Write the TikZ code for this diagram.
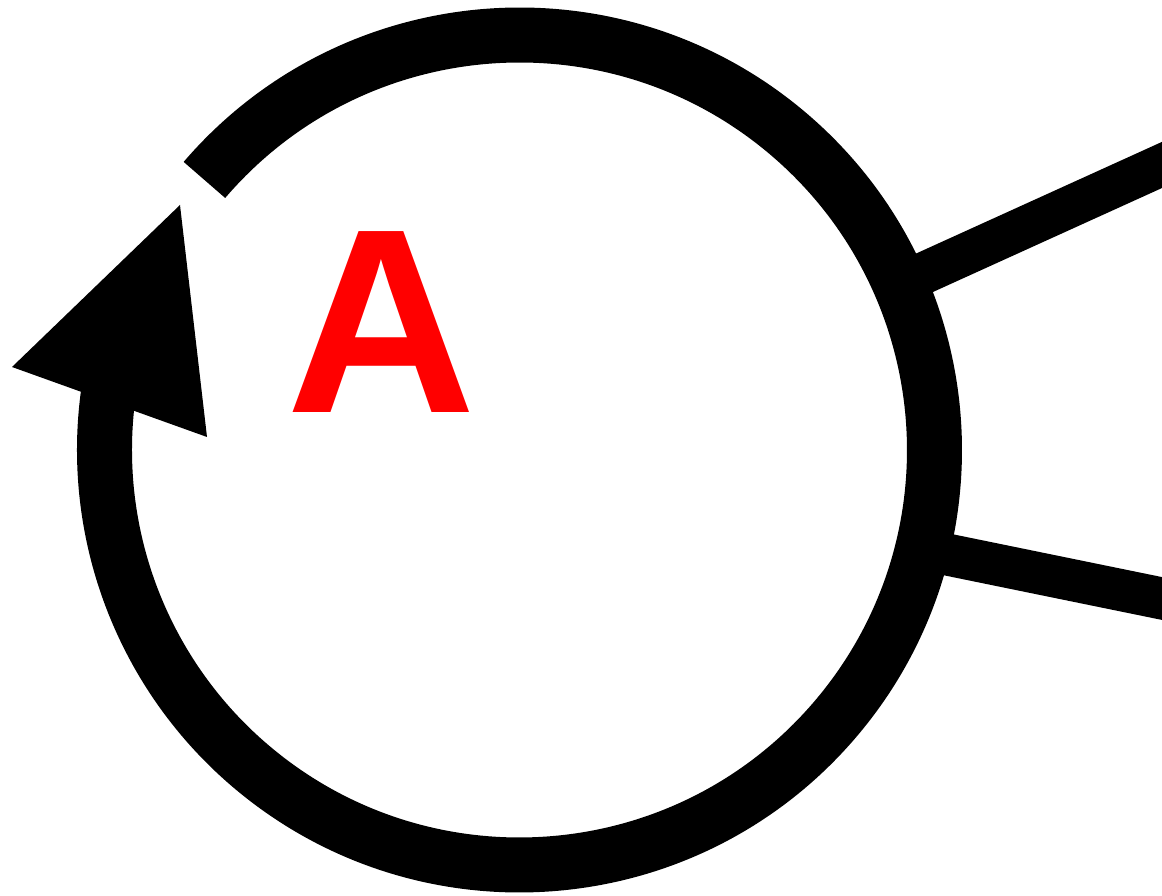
\documentclass[tikz,border=0pt]{standalone}
\usepackage{fontspec}
\setmainfont{Liberation Sans}
\begin{document}
\begin{tikzpicture}[x=1pt,y=1pt,
  ring/.style={line width=55pt, line cap=butt},
  spoke/.style={line width=42pt, line cap=butt},
  arrowhead/.style={fill=black},
  biglabel/.style={text=red, font=\bfseries\fontsize{263}{263}\selectfont, inner sep=0pt, anchor=base}]
\useasboundingbox (0,0) rectangle (1162,896);
\clip (0,0) rectangle (1162,896);
\coordinate (c) at (519.5,446);
% spokes
\coordinate (u1) at (902,613);
\coordinate (u2) at (1200,748.3);
\coordinate (l1) at (925,346);
\coordinate (l2) at (1200,289.7);
\draw[spoke] (u1) -- (u2);
\draw[spoke] (l1) -- (l2);
% ring with gap
\coordinate (ringstart) at ([shift={(c)}]139.4:415);
\draw[ring] (ringstart) arc[start angle=139.4, end angle=-190, radius=415];
% arrowhead
\coordinate (tip) at (180,691);
\coordinate (hl) at (12,529);
\coordinate (hr) at (207,459);
\fill[arrowhead] (tip) -- (hl) -- (hr) -- cycle;
% label
\node[biglabel] (A) at (381.5,483) {A};
\end{tikzpicture}
\end{document}
